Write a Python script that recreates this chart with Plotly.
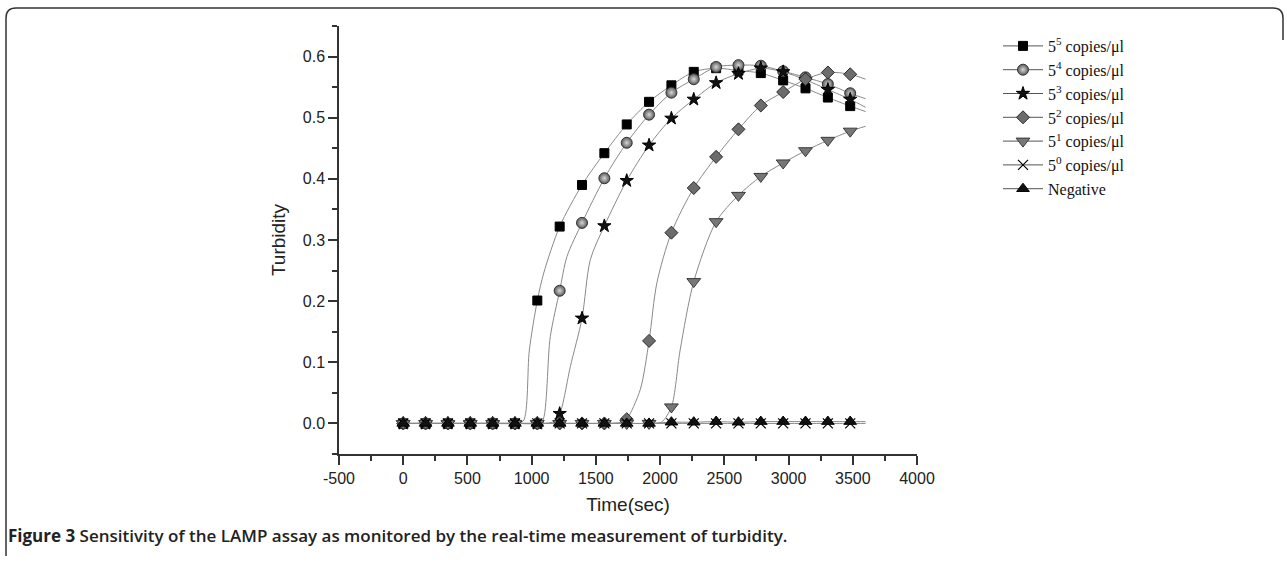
import plotly.graph_objects as go

# ---------------- data ----------------
time_s = [0, 174, 348, 522, 696, 870, 1044, 1218, 1392, 1566, 1740,
          1914, 2088, 2262, 2436, 2610, 2784, 2958, 3132, 3306, 3480]

c5_5 = [0, 0, 0, 0, 0, 0, 0.201, 0.322, 0.390, 0.442, 0.489, 0.526, 0.553,
        0.575, 0.581, 0.577, 0.573, 0.561, 0.548, 0.533, 0.519]
c5_4 = [0, 0, 0, 0, 0, 0, 0, 0.217, 0.328, 0.401, 0.459, 0.505, 0.541,
        0.563, 0.583, 0.586, 0.585, 0.576, 0.566, 0.555, 0.540]
c5_3 = [0, 0, 0, 0, 0, 0, 0, 0.016, 0.172, 0.323, 0.397, 0.455, 0.499,
        0.530, 0.557, 0.572, 0.581, 0.575, 0.562, 0.546, 0.530]
c5_2 = [0, 0, 0, 0, 0, 0, 0, 0, 0, 0, 0.007, 0.135, 0.312,
        0.385, 0.436, 0.481, 0.520, 0.542, 0.563, 0.574, 0.571]
c5_1 = [0, 0, 0, 0, 0, 0, 0, 0, 0, 0, 0, 0, 0.027,
        0.232, 0.330, 0.373, 0.404, 0.426, 0.446, 0.463, 0.478]
c5_0 = [0, 0, 0, 0, 0, 0, 0, 0, 0, 0, 0, 0, 0,
        0, 0, 0, 0, 0, 0, 0, 0]
negative = [0, 0, 0, 0, 0, 0, 0, 0, 0, 0, 0, 0, 0.002,
            0.002, 0.003, 0.002, 0.003, 0.003, 0.003, 0.003, 0.003]

# extra points (between / beyond markers)
curve_x_5_5 = [935, 982, 1094, 3600]
curve_y_5_5 = [0.004, 0.120, 0.246, 0.510]
curve_x_5_4 = [1085, 1145, 1275, 3600]
curve_y_5_4 = [0.004, 0.142, 0.273, 0.531]
curve_x_5_3 = [1160, 1301, 1457, 3600]
curve_y_5_3 = [0.002, 0.093, 0.268, 0.517]
curve_x_5_2 = [1700, 1845, 1975, 3600]
curve_y_5_2 = [0.002, 0.055, 0.230, 0.563]
curve_x_5_1 = [2010, 2156, 3600]
curve_y_5_1 = [0.002, 0.120, 0.486]
curve_x_5_0 = [3600]
curve_y_5_0 = [0.0]
curve_x_neg = [3600]
curve_y_neg = [0.003]

labels = ["5<sup>5</sup> copies/\u03bcl", "5<sup>4</sup> copies/\u03bcl",
          "5<sup>3</sup> copies/\u03bcl", "5<sup>2</sup> copies/\u03bcl",
          "5<sup>1</sup> copies/\u03bcl", "5<sup>0</sup> copies/\u03bcl",
          "Negative"]

x_ticks = [-500, 0, 500, 1000, 1500, 2000, 2500, 3000, 3500, 4000]
x_tick_text = ["-500", "0", "500", "1000", "1500", "2000", "2500", "3000", "3500", "4000"]
y_ticks = [0.0, 0.1, 0.2, 0.3, 0.4, 0.5, 0.6]

# ---------------- styling ----------------
series = [
    (c5_5, curve_x_5_5, curve_y_5_5, dict(symbol="square", size=9, color="#000000",
                                          line=dict(color="#000000", width=1))),
    (c5_4, curve_x_5_4, curve_y_5_4, dict(symbol="circle", size=11, color="#5a5a5a",
                                          gradient=dict(type="radial", color="#d8d8d8"),
                                          line=dict(color="#333333", width=1))),
    (c5_3, curve_x_5_3, curve_y_5_3, dict(symbol="star", size=10, color="#111111",
                                          line=dict(color="#000000", width=1))),
    (c5_2, curve_x_5_2, curve_y_5_2, dict(symbol="diamond", size=10, color="#6c6c6c",
                                          line=dict(color="#2a2a2a", width=1))),
    (c5_1, curve_x_5_1, curve_y_5_1, dict(symbol="triangle-down", size=12, color="#777777",
                                          line=dict(color="#3a3a3a", width=1))),
    (c5_0, curve_x_5_0, curve_y_5_0, dict(symbol="x-thin", size=10, color="#000000",
                                          line=dict(color="#000000", width=1.2))),
    (negative, curve_x_neg, curve_y_neg, dict(symbol="triangle-up", size=11, color="#111111",
                                              line=dict(color="#000000", width=1))),
]

LINE_COLOR = "#8a8a8a"

fig = go.Figure()
for i, (vals, cx, cy, mk) in enumerate(series):
    pts = sorted(list(zip(time_s, vals)) + list(zip(cx, cy)))
    lx = [p[0] for p in pts]
    ly = [p[1] for p in pts]
    fig.add_trace(go.Scatter(x=lx, y=ly, mode="lines",
                             line=dict(color=LINE_COLOR, width=1, shape="spline", smoothing=0.8),
                             showlegend=False, hoverinfo="skip", legendgroup=str(i)))
    fig.add_trace(go.Scatter(x=time_s, y=vals, mode="markers", marker=mk,
                             showlegend=False, legendgroup=str(i), name=labels[i]))
    fig.add_trace(go.Scatter(x=[None], y=[None], mode="lines+markers", marker=mk,
                             line=dict(color="#555555", width=1),
                             name=labels[i], legendgroup=str(i)))

# ---------------- layout ----------------
W, H = 1287, 562
L, R, T, B = 339, 370, 26, 108
pw, ph = W - L - R, H - T - B


def px(x):
    return (x - L) / pw


def py(y):
    return (H - B - y) / ph


border = ("M {a},{b} L {a},{c} Q {a},{d} {e},{d} L {f},{d} Q {g},{d} {g},{h} L {g},{i}"
          .format(a=px(6), b=py(556), c=py(18), d=py(8), e=px(16), f=px(1273),
                  g=px(1283), h=py(18), i=py(40)))

axis_common = dict(showline=True, linecolor="#333333", linewidth=1.5, ticks="outside",
                   ticklen=9, tickwidth=1.5, tickcolor="#333333", showgrid=False,
                   zeroline=False, mirror=False,
                   tickfont=dict(family="Liberation Sans, Arial", size=16, color="#222222"))

fig.update_layout(
    width=W, height=H,
    margin=dict(l=L, r=R, t=T, b=B, autoexpand=False),
    paper_bgcolor="white", plot_bgcolor="white",
    xaxis=dict(range=[-500, 4000], tickvals=x_ticks, ticktext=x_tick_text,
               minor=dict(dtick=250, ticks="outside", ticklen=5, tickwidth=1.5,
                          tickcolor="#333333", showgrid=False),
               title=dict(text="Time(sec)", standoff=12,
                          font=dict(family="Liberation Sans, Arial", size=19, color="#222222")),
               **axis_common),
    yaxis=dict(range=[-0.05, 0.65], tickvals=y_ticks, tickformat=".1f",
               minor=dict(dtick=0.05, ticks="outside", ticklen=5, tickwidth=1.5,
                          tickcolor="#333333", showgrid=False),
               title=dict(text="Turbidity", standoff=12,
                          font=dict(family="Liberation Sans, Arial", size=19, color="#222222")),
               **axis_common),
    legend=dict(x=px(998), y=py(29), xanchor="left", yanchor="top",
                bgcolor="rgba(0,0,0,0)", tracegroupgap=0, itemwidth=40,
                font=dict(family="Liberation Serif, Times New Roman", size=16, color="#111111")),
    shapes=[dict(type="path", xref="paper", yref="paper", path=border,
                 line=dict(color="#333333", width=1.5))],
    annotations=[dict(xref="paper", yref="paper", x=px(6), y=py(535),
                      xanchor="left", yanchor="middle", showarrow=False,
                      text="<b>Figure 3</b> Sensitivity of the LAMP assay as monitored by the real-time measurement of turbidity.",
                      font=dict(family="Open Sans", size=17, color="#222222", weight=600))],
)

fig.write_html("out.html", config={"displayModeBar": False},
               post_script="document.body.style.margin='0';document.body.style.overflow='hidden';")
